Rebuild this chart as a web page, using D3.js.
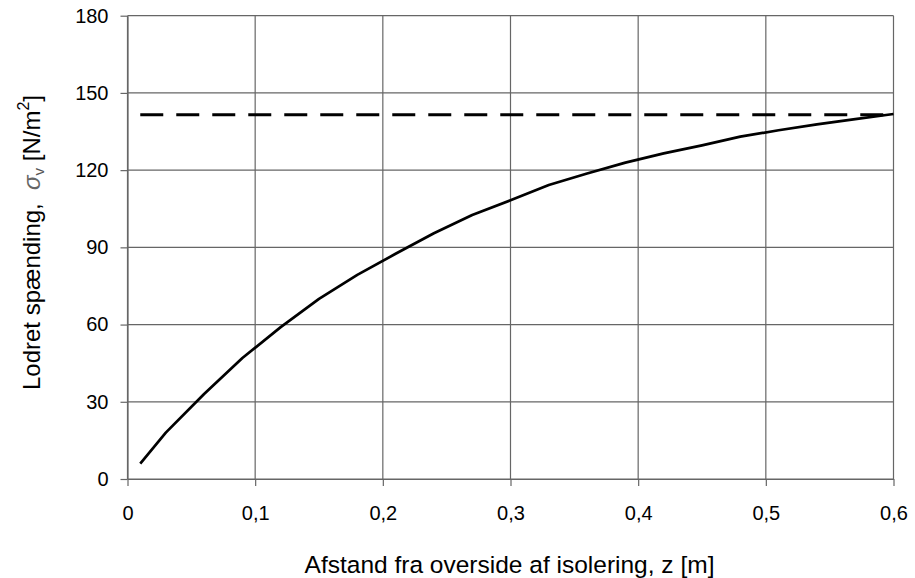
<!DOCTYPE html>
<html>
<head>
<meta charset="utf-8">
<script src="https://cdn.jsdelivr.net/npm/d3@7"></script>
<style>
  html, body { margin: 0; padding: 0; background: #fff; }
  svg { display: block; font-family: "Liberation Sans", Arial, sans-serif; }
</style>
</head>
<body>
<svg id="chart" width="915" height="578"></svg>
<script>
// Data
const zValues = [0.01, 0.03, 0.06, 0.09, 0.12, 0.15, 0.18, 0.21, 0.24, 0.27, 0.30, 0.33, 0.36, 0.39, 0.42, 0.45, 0.48, 0.51, 0.54, 0.57, 0.60];
const sigmaValues = [6, 18, 33, 47, 59, 70, 79.3, 87.5, 95.5, 102.6, 108.3, 114.2, 118.7, 122.9, 126.5, 129.6, 133.0, 135.5, 137.8, 139.8, 141.8];
const limitZ = [0.01, 0.60];
const limitSigma = [141.5, 141.5];
const xTicks = [0, 0.1, 0.2, 0.3, 0.4, 0.5, 0.6];
const yTicks = [0, 30, 60, 90, 120, 150, 180];

const svg = d3.select("#chart");
const m = { left: 127.5, right: 893.5, top: 15.7, bottom: 479 };

const x = d3.scaleLinear().domain([0, 0.6]).range([m.left, m.right]);
const y = d3.scaleLinear().domain([0, 180]).range([m.bottom, m.top]);

const gridColor = "#666";
const fmt = d => d === 0 ? "0" : d3.format(".1f")(d).replace(".", ",");

// Horizontal gridlines
svg.append("g").selectAll("line").data(yTicks).join("line")
  .attr("x1", m.left).attr("x2", m.right)
  .attr("y1", d => y(d)).attr("y2", d => y(d))
  .attr("stroke", gridColor).attr("stroke-width", 1.2);

// Vertical gridlines
svg.append("g").selectAll("line").data(xTicks).join("line")
  .attr("x1", d => x(d)).attr("x2", d => x(d))
  .attr("y1", m.top).attr("y2", m.bottom)
  .attr("stroke", gridColor).attr("stroke-width", 1.2);

// Axes
const xAxis = d3.axisBottom(x).tickValues(xTicks).tickFormat(fmt).tickSizeInner(7).tickSizeOuter(0).tickPadding(20);
const yAxis = d3.axisLeft(y).tickValues(yTicks).tickFormat(d => d).tickSizeInner(7).tickSizeOuter(0).tickPadding(12);

const gx = svg.append("g").attr("transform", `translate(0,${m.bottom})`).call(xAxis);
const gy = svg.append("g").attr("transform", `translate(${m.left},0)`).call(yAxis);
[gx, gy].forEach(g => {
  g.selectAll("path").attr("stroke", gridColor).attr("stroke-width", 1.2);
  g.selectAll("line").attr("stroke", gridColor).attr("stroke-width", 1.2);
  g.selectAll("text").attr("fill", "#000").attr("font-size", 20)
    .attr("font-family", "'Liberation Sans', Arial, sans-serif");
});

// Dashed limit line
const line = d3.line().x(d => x(d[0])).y(d => y(d[1]));
svg.append("path")
  .datum(limitZ.map((z, i) => [z, limitSigma[i]]))
  .attr("d", line)
  .attr("fill", "none").attr("stroke", "#000").attr("stroke-width", 3)
  .attr("stroke-dasharray", "23,13");

// Curve
svg.append("path")
  .datum(zValues.map((z, i) => [z, sigmaValues[i]]))
  .attr("d", line)
  .attr("fill", "none").attr("stroke", "#000").attr("stroke-width", 2.7)
  .attr("stroke-linejoin", "round");

// X axis title
svg.append("text")
  .attr("x", 509.5).attr("y", 573)
  .attr("text-anchor", "middle").attr("font-size", 24.5).attr("fill", "#000")
  .text("Afstand fra overside af isolering, z [m]");

// Y axis title
const yt = svg.append("text")
  .attr("transform", `translate(40,242.5) rotate(-90)`)
  .attr("text-anchor", "middle").attr("font-size", 24).attr("fill", "#000")
  .style("white-space", "pre");
yt.append("tspan").text("Lodret spænding,  ");
yt.append("tspan").attr("font-style", "italic").attr("fill", "#666").text("σ");
yt.append("tspan").attr("font-size", 15).attr("fill", "#555").attr("dy", 4).text("v");
yt.append("tspan").attr("dy", -4).text(" [N/m");
yt.append("tspan").attr("font-size", 16).attr("dy", -11).text("2");
yt.append("tspan").attr("dy", 11).text("]");
</script>
</body>
</html>
